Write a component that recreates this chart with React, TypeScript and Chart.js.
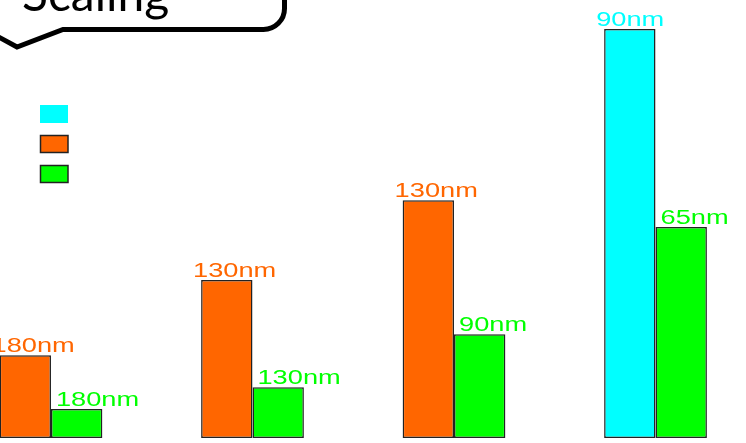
import React, { useEffect, useRef } from "react";
import { Chart, registerables } from "chart.js";

Chart.register(...registerables);

// ---- data ----
const categories = ["Step 1", "Step 2", "Step 3", "Step 4"];
const cyanValues = [null, null, null, 93.4];
const orangeValues = [18.9, 36.1, 54.3, null];
const greenValues = [6.6, 11.6, 23.7, 48.2];
const cyanLabels = [null, null, null, "90nm"];
const orangeLabels = ["180nm", "130nm", "130nm", null];
const greenLabels = ["180nm", "130nm", "90nm", "65nm"];
const calloutText = "Scaling";

const CYAN = "#00FFFF";
const ORANGE = "#FF6600";
const GREEN = "#00FF00";

const seriesLabels = [cyanLabels, orangeLabels, greenLabels];
const labelOffsets = [-8, -8, 5];

const toPoints = (vals: (number | null)[]) =>
  categories.map((_, i) => ({ x: i, y: vals[i] }));

const calloutPlugin = {
  id: "callout",
  afterDraw(chart: any) {
    const ctx = chart.ctx as CanvasRenderingContext2D;
    ctx.save();
    ctx.lineWidth = 5;
    ctx.strokeStyle = "#000";
    ctx.lineJoin = "miter";
    ctx.beginPath();
    ctx.moveTo(-5, 35);
    ctx.lineTo(17, 47);
    ctx.lineTo(63, 29.5);
    ctx.lineTo(263, 29.5);
    ctx.arcTo(284.5, 29.5, 284.5, 8, 21);
    ctx.lineTo(284.5, -10);
    ctx.stroke();
    ctx.fillStyle = "#000";
    ctx.font = '48px Lato, "Open Sans", sans-serif';
    ctx.textAlign = "left";
    ctx.textBaseline = "alphabetic";
    ctx.fillText(calloutText, 22, 11);
    ctx.restore();
  },
};

const legendPlugin = {
  id: "boxLegend",
  afterDraw(chart: any) {
    const ctx = chart.ctx as CanvasRenderingContext2D;
    ctx.save();
    chart.data.datasets.forEach((ds: any, i: number) => {
      const y = 105 + i * 30;
      ctx.fillStyle = ds.backgroundColor;
      ctx.fillRect(40, y, 28, 18);
      if (i > 0) {
        ctx.lineWidth = 1.5;
        ctx.strokeStyle = "#222";
        ctx.strokeRect(40.5, y + 0.5, 27.5, 17);
      }
    });
    ctx.restore();
  },
};

const barLabelPlugin = {
  id: "barLabels",
  afterDatasetsDraw(chart: any) {
    const ctx = chart.ctx as CanvasRenderingContext2D;
    chart.data.datasets.forEach((ds: any, di: number) => {
      const meta = chart.getDatasetMeta(di);
      const texts = seriesLabels[di];
      meta.data.forEach((el: any, i: number) => {
        const t = texts[i];
        if (!t) return;
        const { x, y, width } = el.getProps(["x", "y", "width"], true);
        const left = x - width / 2 + labelOffsets[di];
        ctx.save();
        ctx.translate(left, y - 3);
        ctx.scale(1.36, 1);
        ctx.font = '20px "Liberation Sans", Arial, sans-serif';
        ctx.fillStyle = ds.backgroundColor;
        ctx.textAlign = "left";
        ctx.textBaseline = "alphabetic";
        ctx.fillText(t, 0, 0);
        ctx.restore();
      });
    });
  },
};

export default function App() {
  const ref = useRef<HTMLCanvasElement | null>(null);
  useEffect(() => {
    if (!ref.current) return;
    const common = {
      borderColor: "#222",
      borderWidth: 1.5,
      borderSkipped: false,
      categoryPercentage: 0.51,
      barPercentage: 1,
    };
    const chart = new Chart(ref.current, {
      type: "bar",
      data: {
        datasets: [
          { label: "cyan", data: toPoints(cyanValues), backgroundColor: CYAN, stack: "a", ...common },
          { label: "orange", data: toPoints(orangeValues), backgroundColor: ORANGE, stack: "a", ...common },
          { label: "green", data: toPoints(greenValues), backgroundColor: GREEN, stack: "b", ...common },
        ] as any,
      },
      options: {
        animation: false,
        responsive: false,
        layout: { padding: { top: 0, bottom: 5, left: 0, right: 0 } },
        plugins: { legend: { display: false }, tooltip: { enabled: false } },
        scales: {
          x: {
            type: "linear",
            display: false,
            offset: false,
            min: -0.253,
            max: 3.449,
            afterBuildTicks: (scale: any) => {
              scale.ticks = categories.map((_, i) => ({ value: i }));
            },
          },
          y: { display: false, min: 0, max: 100, stacked: false },
        },
      } as any,
      plugins: [barLabelPlugin, legendPlugin, calloutPlugin],
    });
    return () => chart.destroy();
  }, []);
  return (
    <div style={{ position: "absolute", left: 0, top: 0, width: 746, height: 443, background: "#fff" }}>
      <canvas ref={ref} width={746} height={443} style={{ display: "block" }} />
    </div>
  );
}
